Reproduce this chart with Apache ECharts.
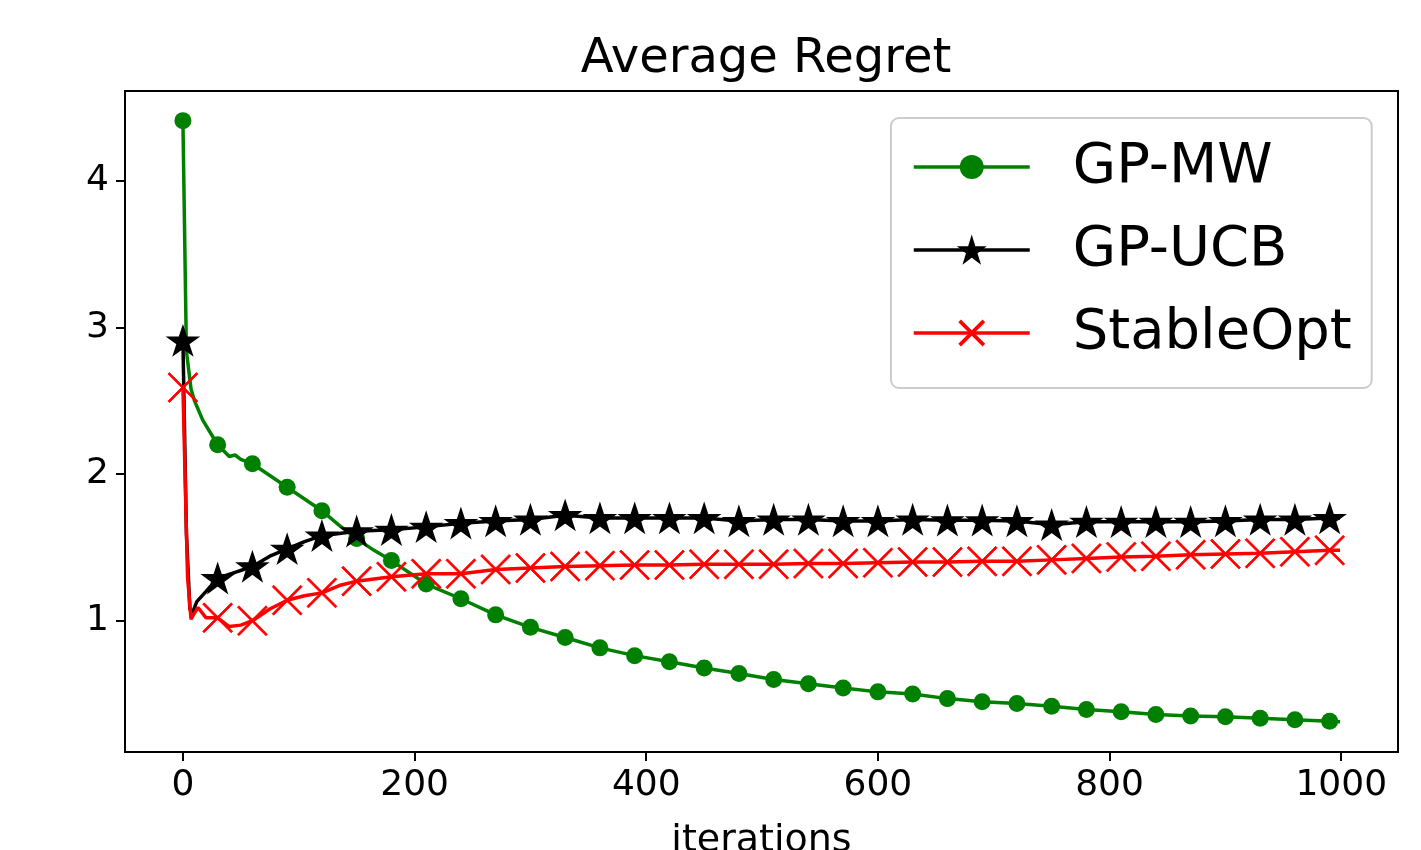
<!DOCTYPE html>
<html>
<head>
    <meta charset="utf-8">
    <title>Average Regret</title>
    <script src="https://cdn.jsdelivr.net/npm/echarts@6/dist/echarts.min.js"></script>
</head>
<body style="margin:0">
    <div id="main" style="width: 1421px;height:850px;"></div>

<script>
// values
var mwIter   = [0, 3, 7, 10, 17, 30, 40, 45, 50, 60, 75, 90, 105, 120, 135, 150, 165, 180, 210, 240, 270, 300, 330, 360, 390, 420, 450, 480, 510, 540, 570, 600, 630, 660, 690, 720, 750, 780, 810, 840, 870, 900, 930, 960, 990, 999];
var mwRegret = [4.41, 2.84, 2.58, 2.50, 2.37, 2.20, 2.12, 2.13, 2.10, 2.07, 1.99, 1.91, 1.83, 1.75, 1.65, 1.56, 1.48, 1.41, 1.25, 1.15, 1.04, 0.955, 0.886, 0.815, 0.762, 0.72, 0.678, 0.64, 0.60, 0.57, 0.542, 0.515, 0.50, 0.469, 0.447, 0.435, 0.417, 0.395, 0.379, 0.361, 0.35, 0.345, 0.335, 0.325, 0.315, 0.312];

var ucbIter   = [0, 3, 6, 8, 12, 20, 30, 45, 60, 75, 90, 105, 120, 150, 180, 210, 240, 270, 300, 330, 360, 390, 420, 450, 480, 510, 540, 570, 600, 630, 660, 690, 720, 750, 780, 810, 840, 870, 900, 930, 960, 990, 999];
var ucbRegret = [2.91, 1.60, 1.08, 1.05, 1.13, 1.20, 1.29, 1.33, 1.37, 1.44, 1.49, 1.54, 1.58, 1.61, 1.62, 1.64, 1.665, 1.68, 1.69, 1.72, 1.70, 1.70, 1.70, 1.70, 1.68, 1.69, 1.69, 1.68, 1.68, 1.69, 1.685, 1.685, 1.68, 1.655, 1.675, 1.675, 1.675, 1.675, 1.68, 1.69, 1.69, 1.70, 1.70];

var soIter   = [0, 4, 7, 9, 13, 20, 30, 40, 50, 60, 75, 90, 105, 120, 135, 150, 180, 210, 240, 270, 300, 330, 360, 390, 420, 450, 480, 510, 540, 570, 600, 630, 660, 690, 720, 750, 780, 810, 840, 870, 900, 930, 960, 990, 999];
var soRegret = [2.59, 1.30, 1.01, 1.04, 1.09, 1.02, 1.02, 0.96, 0.97, 1.00, 1.08, 1.14, 1.17, 1.19, 1.24, 1.27, 1.30, 1.32, 1.32, 1.35, 1.36, 1.37, 1.375, 1.38, 1.38, 1.385, 1.385, 1.385, 1.39, 1.39, 1.395, 1.40, 1.40, 1.405, 1.405, 1.415, 1.425, 1.435, 1.44, 1.45, 1.455, 1.46, 1.47, 1.48, 1.48];

var xTicks = [0, 200, 400, 600, 800, 1000];
var yTicks = [1, 2, 3, 4];

var starPath = 'path://M50 0L61.23 34.55L97.55 34.55L68.16 55.9L79.39 90.45L50 69.1L20.61 90.45L31.84 55.9L2.45 34.55L38.77 34.55Z';
var crossPath = 'path://M0 5L5 0L50 45L95 0L100 5L55 50L100 95L95 100L50 55L5 100L0 95L45 50Z';
var font = 'DejaVu Sans';

function pairs(xs, ys) {
    return xs.map(function (x, i) { return [x, ys[i]]; });
}
// matplotlib markevery=30
function every30(size) {
    return function (v) { return v[0] % 30 === 0 ? size : 0; };
}

var myChart = echarts.init(document.getElementById('main'));
myChart.setOption({
    animation: false,
    backgroundColor: '#fff',
    title: {
        text: 'Average Regret',
        left: 761,
        top: 31,
        textAlign: 'center',
        textStyle: {fontFamily: font, fontSize: 48, fontWeight: 'normal', color: '#000'}
    },
    legend: {
        orient: 'vertical',
        left: 891,
        top: 118,
        padding: [21, 20, 27, 21],
        itemWidth: 116,
        itemHeight: 30,
        itemGap: 27,
        borderColor: '#cccccc',
        borderWidth: 2,
        borderRadius: 8,
        backgroundColor: 'rgba(255,255,255,0.8)',
        lineStyle: {width: 3.5},
        textStyle: {fontFamily: font, fontSize: 56, color: '#000', padding: [0, 0, 0, 38]},
        data: ['GP-MW', 'GP-UCB', 'StableOpt']
    },
    grid: {
        left: 125, right: 23, top: 91, bottom: 98,
        outerBoundsMode: 'none',
        containLabel: false,
        show: true, borderColor: '#000', borderWidth: 2
    },
    xAxis: {
        type: 'value',
        min: -50,
        max: 1049,
        name: 'iterations',
        nameLocation: 'middle',
        nameGap: 70,
        nameTextStyle: {fontFamily: font, fontSize: 38, color: '#000'},
        splitLine: {show: false},
        axisLine: {show: true, onZero: false, lineStyle: {color: '#000', width: 2}},
        axisTick: {show: true, length: 9, lineStyle: {color: '#000', width: 2}, customValues: xTicks},
        axisLabel: {fontFamily: font, fontSize: 36, color: '#000', margin: 16, customValues: xTicks,
            formatter: function (v) { return String(v); }}
    },
    yAxis: {
        type: 'value',
        min: 0.105,
        max: 4.612,
        splitLine: {show: false},
        axisLine: {show: true, onZero: false, lineStyle: {color: '#000', width: 2}},
        axisTick: {show: true, length: 9, lineStyle: {color: '#000', width: 2}, customValues: yTicks},
        axisLabel: {fontFamily: font, fontSize: 36, color: '#000', margin: 16, customValues: yTicks}
    },
    series: [
        {
            name: 'GP-MW',
            type: 'line',
            data: pairs(mwIter, mwRegret),
            color: '#008000',
            symbol: 'circle',
            symbolSize: every30(17),
            showAllSymbol: true,
            lineStyle: {width: 3.5},
            itemStyle: {color: '#008000'}
        },
        {
            name: 'GP-UCB',
            type: 'line',
            data: pairs(ucbIter, ucbRegret),
            color: '#000',
            symbol: starPath,
            symbolKeepAspect: true,
            symbolSize: every30(30),
            showAllSymbol: true,
            lineStyle: {width: 3.5},
            itemStyle: {color: '#000', borderColor: '#000', borderWidth: 1.5}
        },
        {
            name: 'StableOpt',
            type: 'line',
            data: pairs(soIter, soRegret),
            color: '#ff0000',
            symbol: crossPath,
            symbolSize: every30(30),
            showAllSymbol: true,
            lineStyle: {width: 3.5},
            itemStyle: {color: '#ff0000', borderColor: '#ff0000', borderWidth: 0.8}
        }
    ]
});
</script>

</body>
</html>
